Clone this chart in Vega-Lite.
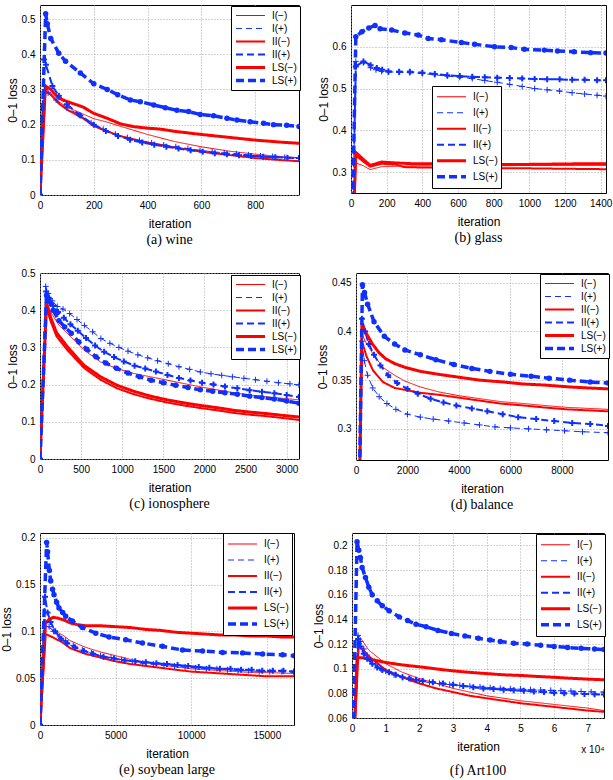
{
  "$schema": "https://vega.github.io/schema/vega-lite/v6.json",
  "padding": {"left": 0, "top": 4, "right": 0, "bottom": 0},
  "config": {
    "font": "Liberation Sans",
    "view": {"stroke": "black", "strokeWidth": 1},
    "axis": {"grid": true, "gridColor": "#a8a8a8", "gridDash": [1, 2], "gridWidth": 1, "domain": false, "ticks": false, "labelFont": "Liberation Sans", "labelFontSize": 10, "labelColor": "#000", "labelPadding": 5, "labelFlush": false, "labelOverlap": false, "titleFont": "Liberation Sans", "titleFontSize": 12, "titleFontWeight": "normal", "titleColor": "#000"},
    "axisX": {"titlePadding": 8},
    "axisY": {"titlePadding": 2},
    "title": {"orient": "bottom", "font": "Liberation Serif", "fontSize": 14, "fontWeight": "normal", "color": "#000", "offset": 4, "anchor": "middle"},
    "legend": {"title": null, "orient": "none", "symbolType": "stroke", "symbolSize": 841, "labelOffset": 5, "rowPadding": 0, "padding": 3, "labelFont": "Liberation Sans", "labelFontSize": 10, "labelColor": "#000", "strokeColor": "#000", "fillColor": "#fff"}
  },
  "datasets": {
    "wine": [
      {"s":"I(−)","x":0,"y":0},{"s":"I(−)","x":20,"y":0.3},{"s":"I(−)","x":40,"y":0.29},{"s":"I(−)","x":70,"y":0.265},{"s":"I(−)","x":100,"y":0.25},{"s":"I(−)","x":160,"y":0.23},{"s":"I(−)","x":200,"y":0.217},{"s":"I(−)","x":250,"y":0.207},{"s":"I(−)","x":300,"y":0.195},{"s":"I(−)","x":400,"y":0.172},{"s":"I(−)","x":500,"y":0.152},{"s":"I(−)","x":600,"y":0.137},{"s":"I(−)","x":700,"y":0.125},{"s":"I(−)","x":800,"y":0.116},{"s":"I(−)","x":900,"y":0.109},{"s":"I(−)","x":963,"y":0.106},
      {"s":"I(+)","x":0,"y":0},{"s":"I(+)","x":18,"y":0.3},{"s":"I(+)","x":30,"y":0.29},{"s":"I(+)","x":60,"y":0.27},{"s":"I(+)","x":100,"y":0.248},{"s":"I(+)","x":145,"y":0.228},{"s":"I(+)","x":190,"y":0.205},{"s":"I(+)","x":235,"y":0.187},{"s":"I(+)","x":280,"y":0.173},{"s":"I(+)","x":325,"y":0.163},{"s":"I(+)","x":370,"y":0.155},{"s":"I(+)","x":415,"y":0.148},{"s":"I(+)","x":460,"y":0.142},{"s":"I(+)","x":505,"y":0.137},{"s":"I(+)","x":550,"y":0.132},{"s":"I(+)","x":595,"y":0.127},{"s":"I(+)","x":640,"y":0.123},{"s":"I(+)","x":685,"y":0.12},{"s":"I(+)","x":730,"y":0.117},{"s":"I(+)","x":775,"y":0.114},{"s":"I(+)","x":820,"y":0.111},{"s":"I(+)","x":865,"y":0.109},{"s":"I(+)","x":910,"y":0.107},{"s":"I(+)","x":963,"y":0.105},
      {"s":"II(−)","x":0,"y":0},{"s":"II(−)","x":20,"y":0.295},{"s":"II(−)","x":40,"y":0.285},{"s":"II(−)","x":70,"y":0.26},{"s":"II(−)","x":100,"y":0.243},{"s":"II(−)","x":160,"y":0.218},{"s":"II(−)","x":200,"y":0.196},{"s":"II(−)","x":250,"y":0.181},{"s":"II(−)","x":300,"y":0.167},{"s":"II(−)","x":400,"y":0.149},{"s":"II(−)","x":500,"y":0.135},{"s":"II(−)","x":600,"y":0.123},{"s":"II(−)","x":700,"y":0.114},{"s":"II(−)","x":800,"y":0.105},{"s":"II(−)","x":900,"y":0.099},{"s":"II(−)","x":963,"y":0.096},
      {"s":"II(+)","x":0,"y":0},{"s":"II(+)","x":15,"y":0.385},{"s":"II(+)","x":22,"y":0.37},{"s":"II(+)","x":46,"y":0.31},{"s":"II(+)","x":70,"y":0.282},{"s":"II(+)","x":100,"y":0.258},{"s":"II(+)","x":150,"y":0.226},{"s":"II(+)","x":200,"y":0.2},{"s":"II(+)","x":245,"y":0.182},{"s":"II(+)","x":290,"y":0.168},{"s":"II(+)","x":335,"y":0.157},{"s":"II(+)","x":380,"y":0.149},{"s":"II(+)","x":425,"y":0.143},{"s":"II(+)","x":470,"y":0.137},{"s":"II(+)","x":515,"y":0.132},{"s":"II(+)","x":560,"y":0.127},{"s":"II(+)","x":605,"y":0.123},{"s":"II(+)","x":650,"y":0.119},{"s":"II(+)","x":695,"y":0.116},{"s":"II(+)","x":740,"y":0.113},{"s":"II(+)","x":785,"y":0.111},{"s":"II(+)","x":830,"y":0.109},{"s":"II(+)","x":875,"y":0.107},{"s":"II(+)","x":920,"y":0.106},{"s":"II(+)","x":963,"y":0.105},
      {"s":"LS(−)","x":0,"y":0},{"s":"LS(−)","x":20,"y":0.31},{"s":"LS(−)","x":40,"y":0.3},{"s":"LS(−)","x":70,"y":0.275},{"s":"LS(−)","x":100,"y":0.266},{"s":"LS(−)","x":160,"y":0.25},{"s":"LS(−)","x":200,"y":0.232},{"s":"LS(−)","x":250,"y":0.218},{"s":"LS(−)","x":300,"y":0.202},{"s":"LS(−)","x":350,"y":0.194},{"s":"LS(−)","x":400,"y":0.19},{"s":"LS(−)","x":450,"y":0.187},{"s":"LS(−)","x":500,"y":0.181},{"s":"LS(−)","x":600,"y":0.172},{"s":"LS(−)","x":700,"y":0.164},{"s":"LS(−)","x":800,"y":0.156},{"s":"LS(−)","x":900,"y":0.15},{"s":"LS(−)","x":963,"y":0.147},
      {"s":"LS(+)","x":0,"y":0},{"s":"LS(+)","x":21,"y":0.515},{"s":"LS(+)","x":27,"y":0.487},{"s":"LS(+)","x":40,"y":0.445},{"s":"LS(+)","x":70,"y":0.403},{"s":"LS(+)","x":95,"y":0.38},{"s":"LS(+)","x":150,"y":0.347},{"s":"LS(+)","x":200,"y":0.316},{"s":"LS(+)","x":250,"y":0.3},{"s":"LS(+)","x":289,"y":0.285},{"s":"LS(+)","x":336,"y":0.27},{"s":"LS(+)","x":373,"y":0.265},{"s":"LS(+)","x":423,"y":0.256},{"s":"LS(+)","x":466,"y":0.248},{"s":"LS(+)","x":509,"y":0.241},{"s":"LS(+)","x":553,"y":0.237},{"s":"LS(+)","x":596,"y":0.229},{"s":"LS(+)","x":645,"y":0.225},{"s":"LS(+)","x":695,"y":0.218},{"s":"LS(+)","x":732,"y":0.213},{"s":"LS(+)","x":781,"y":0.208},{"s":"LS(+)","x":831,"y":0.204},{"s":"LS(+)","x":868,"y":0.2},{"s":"LS(+)","x":917,"y":0.198},{"s":"LS(+)","x":963,"y":0.195}
    ],
    "glass": [
      {"s":"I(−)","x":0,"y":0},{"s":"I(−)","x":27,"y":0.322},{"s":"I(−)","x":70,"y":0.315},{"s":"I(−)","x":107,"y":0.306},{"s":"I(−)","x":172,"y":0.313},{"s":"I(−)","x":250,"y":0.314},{"s":"I(−)","x":400,"y":0.315},{"s":"I(−)","x":600,"y":0.314},{"s":"I(−)","x":800,"y":0.315},{"s":"I(−)","x":1000,"y":0.316},{"s":"I(−)","x":1200,"y":0.316},{"s":"I(−)","x":1430,"y":0.316},
      {"s":"I(+)","x":0,"y":0},{"s":"I(+)","x":27,"y":0.565},{"s":"I(+)","x":70,"y":0.562},{"s":"I(+)","x":110,"y":0.55},{"s":"I(+)","x":140,"y":0.545},{"s":"I(+)","x":172,"y":0.541},{"s":"I(+)","x":210,"y":0.54},{"s":"I(+)","x":270,"y":0.539},{"s":"I(+)","x":330,"y":0.538},{"s":"I(+)","x":400,"y":0.536},{"s":"I(+)","x":470,"y":0.533},{"s":"I(+)","x":540,"y":0.53},{"s":"I(+)","x":610,"y":0.527},{"s":"I(+)","x":680,"y":0.524},{"s":"I(+)","x":750,"y":0.519},{"s":"I(+)","x":820,"y":0.515},{"s":"I(+)","x":890,"y":0.51},{"s":"I(+)","x":960,"y":0.505},{"s":"I(+)","x":1030,"y":0.5},{"s":"I(+)","x":1100,"y":0.497},{"s":"I(+)","x":1170,"y":0.494},{"s":"I(+)","x":1240,"y":0.49},{"s":"I(+)","x":1310,"y":0.487},{"s":"I(+)","x":1380,"y":0.484},{"s":"I(+)","x":1430,"y":0.482},
      {"s":"II(−)","x":0,"y":0},{"s":"II(−)","x":27,"y":0.34},{"s":"II(−)","x":70,"y":0.325},{"s":"II(−)","x":107,"y":0.313},{"s":"II(−)","x":172,"y":0.32},{"s":"II(−)","x":250,"y":0.318},{"s":"II(−)","x":300,"y":0.312},{"s":"II(−)","x":400,"y":0.311},{"s":"II(−)","x":600,"y":0.31},{"s":"II(−)","x":800,"y":0.309},{"s":"II(−)","x":1000,"y":0.309},{"s":"II(−)","x":1200,"y":0.308},{"s":"II(−)","x":1430,"y":0.307},
      {"s":"II(+)","x":0,"y":0},{"s":"II(+)","x":27,"y":0.553},{"s":"II(+)","x":70,"y":0.565},{"s":"II(+)","x":110,"y":0.556},{"s":"II(+)","x":145,"y":0.549},{"s":"II(+)","x":175,"y":0.545},{"s":"II(+)","x":210,"y":0.541},{"s":"II(+)","x":270,"y":0.54},{"s":"II(+)","x":330,"y":0.54},{"s":"II(+)","x":400,"y":0.538},{"s":"II(+)","x":470,"y":0.535},{"s":"II(+)","x":540,"y":0.532},{"s":"II(+)","x":610,"y":0.53},{"s":"II(+)","x":680,"y":0.528},{"s":"II(+)","x":750,"y":0.527},{"s":"II(+)","x":820,"y":0.526},{"s":"II(+)","x":890,"y":0.525},{"s":"II(+)","x":960,"y":0.524},{"s":"II(+)","x":1030,"y":0.523},{"s":"II(+)","x":1100,"y":0.522},{"s":"II(+)","x":1170,"y":0.522},{"s":"II(+)","x":1240,"y":0.521},{"s":"II(+)","x":1310,"y":0.521},{"s":"II(+)","x":1380,"y":0.52},{"s":"II(+)","x":1430,"y":0.52},
      {"s":"LS(−)","x":0,"y":0},{"s":"LS(−)","x":27,"y":0.347},{"s":"LS(−)","x":70,"y":0.33},{"s":"LS(−)","x":107,"y":0.316},{"s":"LS(−)","x":172,"y":0.324},{"s":"LS(−)","x":250,"y":0.322},{"s":"LS(−)","x":350,"y":0.32},{"s":"LS(−)","x":500,"y":0.32},{"s":"LS(−)","x":700,"y":0.319},{"s":"LS(−)","x":900,"y":0.318},{"s":"LS(−)","x":1100,"y":0.319},{"s":"LS(−)","x":1300,"y":0.32},{"s":"LS(−)","x":1430,"y":0.32},
      {"s":"LS(+)","x":0,"y":0},{"s":"LS(+)","x":27,"y":0.624},{"s":"LS(+)","x":61,"y":0.636},{"s":"LS(+)","x":100,"y":0.645},{"s":"LS(+)","x":135,"y":0.651},{"s":"LS(+)","x":163,"y":0.643},{"s":"LS(+)","x":228,"y":0.64},{"s":"LS(+)","x":302,"y":0.633},{"s":"LS(+)","x":377,"y":0.628},{"s":"LS(+)","x":433,"y":0.62},{"s":"LS(+)","x":507,"y":0.617},{"s":"LS(+)","x":619,"y":0.61},{"s":"LS(+)","x":693,"y":0.606},{"s":"LS(+)","x":805,"y":0.6},{"s":"LS(+)","x":898,"y":0.598},{"s":"LS(+)","x":972,"y":0.594},{"s":"LS(+)","x":1084,"y":0.592},{"s":"LS(+)","x":1158,"y":0.59},{"s":"LS(+)","x":1251,"y":0.588},{"s":"LS(+)","x":1344,"y":0.586},{"s":"LS(+)","x":1430,"y":0.585}
    ],
    "iono": [
      {"s":"I(−)","x":0,"y":0},{"s":"I(−)","x":75,"y":0.42},{"s":"I(−)","x":130,"y":0.395},{"s":"I(−)","x":230,"y":0.36},{"s":"I(−)","x":332,"y":0.338},{"s":"I(−)","x":534,"y":0.293},{"s":"I(−)","x":736,"y":0.261},{"s":"I(−)","x":938,"y":0.243},{"s":"I(−)","x":1140,"y":0.23},{"s":"I(−)","x":1342,"y":0.221},{"s":"I(−)","x":1545,"y":0.212},{"s":"I(−)","x":1747,"y":0.203},{"s":"I(−)","x":1949,"y":0.194},{"s":"I(−)","x":2151,"y":0.186},{"s":"I(−)","x":2353,"y":0.178},{"s":"I(−)","x":2556,"y":0.172},{"s":"I(−)","x":2758,"y":0.167},{"s":"I(−)","x":2960,"y":0.163},{"s":"I(−)","x":3150,"y":0.159},
      {"s":"I(+)","x":0,"y":0},{"s":"I(+)","x":69,"y":0.464},{"s":"I(+)","x":100,"y":0.445},{"s":"I(+)","x":150,"y":0.425},{"s":"I(+)","x":210,"y":0.41},{"s":"I(+)","x":280,"y":0.403},{"s":"I(+)","x":360,"y":0.391},{"s":"I(+)","x":450,"y":0.375},{"s":"I(+)","x":540,"y":0.359},{"s":"I(+)","x":640,"y":0.342},{"s":"I(+)","x":740,"y":0.324},{"s":"I(+)","x":850,"y":0.311},{"s":"I(+)","x":960,"y":0.3},{"s":"I(+)","x":1070,"y":0.29},{"s":"I(+)","x":1190,"y":0.28},{"s":"I(+)","x":1310,"y":0.272},{"s":"I(+)","x":1430,"y":0.264},{"s":"I(+)","x":1560,"y":0.256},{"s":"I(+)","x":1690,"y":0.248},{"s":"I(+)","x":1820,"y":0.241},{"s":"I(+)","x":1950,"y":0.234},{"s":"I(+)","x":2080,"y":0.229},{"s":"I(+)","x":2210,"y":0.225},{"s":"I(+)","x":2340,"y":0.221},{"s":"I(+)","x":2480,"y":0.217},{"s":"I(+)","x":2620,"y":0.213},{"s":"I(+)","x":2760,"y":0.209},{"s":"I(+)","x":2900,"y":0.205},{"s":"I(+)","x":3040,"y":0.202},{"s":"I(+)","x":3150,"y":0.199},
      {"s":"II(−)","x":0,"y":0},{"s":"II(−)","x":75,"y":0.41},{"s":"II(−)","x":130,"y":0.37},{"s":"II(−)","x":200,"y":0.33},{"s":"II(−)","x":332,"y":0.293},{"s":"II(−)","x":534,"y":0.245},{"s":"II(−)","x":736,"y":0.213},{"s":"II(−)","x":938,"y":0.19},{"s":"II(−)","x":1140,"y":0.174},{"s":"II(−)","x":1342,"y":0.162},{"s":"II(−)","x":1545,"y":0.152},{"s":"II(−)","x":1747,"y":0.144},{"s":"II(−)","x":1949,"y":0.137},{"s":"II(−)","x":2151,"y":0.131},{"s":"II(−)","x":2353,"y":0.124},{"s":"II(−)","x":2556,"y":0.119},{"s":"II(−)","x":2758,"y":0.115},{"s":"II(−)","x":2960,"y":0.11},{"s":"II(−)","x":3150,"y":0.105},
      {"s":"II(+)","x":0,"y":0},{"s":"II(+)","x":75,"y":0.45},{"s":"II(+)","x":110,"y":0.432},{"s":"II(+)","x":160,"y":0.412},{"s":"II(+)","x":220,"y":0.395},{"s":"II(+)","x":290,"y":0.38},{"s":"II(+)","x":370,"y":0.362},{"s":"II(+)","x":460,"y":0.345},{"s":"II(+)","x":560,"y":0.325},{"s":"II(+)","x":670,"y":0.305},{"s":"II(+)","x":780,"y":0.288},{"s":"II(+)","x":900,"y":0.274},{"s":"II(+)","x":1020,"y":0.262},{"s":"II(+)","x":1150,"y":0.251},{"s":"II(+)","x":1280,"y":0.243},{"s":"II(+)","x":1410,"y":0.235},{"s":"II(+)","x":1550,"y":0.226},{"s":"II(+)","x":1690,"y":0.218},{"s":"II(+)","x":1830,"y":0.211},{"s":"II(+)","x":1970,"y":0.205},{"s":"II(+)","x":2110,"y":0.2},{"s":"II(+)","x":2250,"y":0.195},{"s":"II(+)","x":2400,"y":0.19},{"s":"II(+)","x":2550,"y":0.185},{"s":"II(+)","x":2700,"y":0.181},{"s":"II(+)","x":2850,"y":0.177},{"s":"II(+)","x":3000,"y":0.172},{"s":"II(+)","x":3150,"y":0.167},
      {"s":"LS(−)","x":0,"y":0},{"s":"LS(−)","x":80,"y":0.42},{"s":"LS(−)","x":130,"y":0.38},{"s":"LS(−)","x":200,"y":0.34},{"s":"LS(−)","x":332,"y":0.302},{"s":"LS(−)","x":534,"y":0.252},{"s":"LS(−)","x":736,"y":0.221},{"s":"LS(−)","x":938,"y":0.198},{"s":"LS(−)","x":1140,"y":0.182},{"s":"LS(−)","x":1342,"y":0.169},{"s":"LS(−)","x":1545,"y":0.159},{"s":"LS(−)","x":1747,"y":0.151},{"s":"LS(−)","x":1949,"y":0.144},{"s":"LS(−)","x":2151,"y":0.138},{"s":"LS(−)","x":2353,"y":0.131},{"s":"LS(−)","x":2556,"y":0.126},{"s":"LS(−)","x":2758,"y":0.122},{"s":"LS(−)","x":2960,"y":0.117},{"s":"LS(−)","x":3150,"y":0.113},
      {"s":"LS(+)","x":0,"y":0},{"s":"LS(+)","x":80,"y":0.44},{"s":"LS(+)","x":110,"y":0.425},{"s":"LS(+)","x":160,"y":0.4},{"s":"LS(+)","x":230,"y":0.372},{"s":"LS(+)","x":300,"y":0.355},{"s":"LS(+)","x":380,"y":0.338},{"s":"LS(+)","x":470,"y":0.315},{"s":"LS(+)","x":570,"y":0.295},{"s":"LS(+)","x":680,"y":0.275},{"s":"LS(+)","x":800,"y":0.258},{"s":"LS(+)","x":930,"y":0.244},{"s":"LS(+)","x":1070,"y":0.231},{"s":"LS(+)","x":1210,"y":0.221},{"s":"LS(+)","x":1350,"y":0.212},{"s":"LS(+)","x":1500,"y":0.205},{"s":"LS(+)","x":1650,"y":0.198},{"s":"LS(+)","x":1800,"y":0.192},{"s":"LS(+)","x":1950,"y":0.186},{"s":"LS(+)","x":2100,"y":0.182},{"s":"LS(+)","x":2250,"y":0.178},{"s":"LS(+)","x":2400,"y":0.174},{"s":"LS(+)","x":2550,"y":0.169},{"s":"LS(+)","x":2700,"y":0.165},{"s":"LS(+)","x":2850,"y":0.161},{"s":"LS(+)","x":3000,"y":0.156},{"s":"LS(+)","x":3150,"y":0.15}
    ],
    "balance": [
      {"s":"I(−)","x":0,"y":0},{"s":"I(−)","x":230,"y":0.397},{"s":"I(−)","x":400,"y":0.388},{"s":"I(−)","x":660,"y":0.377},{"s":"I(−)","x":1050,"y":0.363},{"s":"I(−)","x":1500,"y":0.355},{"s":"I(−)","x":1900,"y":0.349},{"s":"I(−)","x":2500,"y":0.343},{"s":"I(−)","x":3200,"y":0.338},{"s":"I(−)","x":4000,"y":0.334},{"s":"I(−)","x":4800,"y":0.331},{"s":"I(−)","x":5600,"y":0.328},{"s":"I(−)","x":6500,"y":0.326},{"s":"I(−)","x":7300,"y":0.324},{"s":"I(−)","x":8200,"y":0.322},{"s":"I(−)","x":9000,"y":0.321},{"s":"I(−)","x":9790,"y":0.32},
      {"s":"I(+)","x":0,"y":0},{"s":"I(+)","x":230,"y":0.39},{"s":"I(+)","x":320,"y":0.37},{"s":"I(+)","x":450,"y":0.355},{"s":"I(+)","x":650,"y":0.342},{"s":"I(+)","x":900,"y":0.333},{"s":"I(+)","x":1200,"y":0.326},{"s":"I(+)","x":1550,"y":0.32},{"s":"I(+)","x":2000,"y":0.315},{"s":"I(+)","x":2500,"y":0.312},{"s":"I(+)","x":3000,"y":0.31},{"s":"I(+)","x":3600,"y":0.308},{"s":"I(+)","x":4200,"y":0.306},{"s":"I(+)","x":4800,"y":0.304},{"s":"I(+)","x":5400,"y":0.302},{"s":"I(+)","x":6000,"y":0.301},{"s":"I(+)","x":6700,"y":0.3},{"s":"I(+)","x":7400,"y":0.299},{"s":"I(+)","x":8100,"y":0.298},{"s":"I(+)","x":8800,"y":0.297},{"s":"I(+)","x":9790,"y":0.296},
      {"s":"II(−)","x":0,"y":0},{"s":"II(−)","x":230,"y":0.39},{"s":"II(−)","x":400,"y":0.375},{"s":"II(−)","x":660,"y":0.36},{"s":"II(−)","x":1050,"y":0.348},{"s":"II(−)","x":1500,"y":0.342},{"s":"II(−)","x":1900,"y":0.34},{"s":"II(−)","x":2500,"y":0.337},{"s":"II(−)","x":3200,"y":0.335},{"s":"II(−)","x":4000,"y":0.332},{"s":"II(−)","x":4800,"y":0.329},{"s":"II(−)","x":5600,"y":0.326},{"s":"II(−)","x":6500,"y":0.324},{"s":"II(−)","x":7300,"y":0.322},{"s":"II(−)","x":8200,"y":0.32},{"s":"II(−)","x":9000,"y":0.319},{"s":"II(−)","x":9790,"y":0.318},
      {"s":"II(+)","x":0,"y":0},{"s":"II(+)","x":230,"y":0.413},{"s":"II(+)","x":350,"y":0.4},{"s":"II(+)","x":500,"y":0.387},{"s":"II(+)","x":700,"y":0.376},{"s":"II(+)","x":950,"y":0.365},{"s":"II(+)","x":1250,"y":0.355},{"s":"II(+)","x":1600,"y":0.347},{"s":"II(+)","x":2000,"y":0.341},{"s":"II(+)","x":2400,"y":0.336},{"s":"II(+)","x":2900,"y":0.331},{"s":"II(+)","x":3400,"y":0.327},{"s":"II(+)","x":3900,"y":0.324},{"s":"II(+)","x":4500,"y":0.321},{"s":"II(+)","x":5100,"y":0.318},{"s":"II(+)","x":5700,"y":0.315},{"s":"II(+)","x":6300,"y":0.312},{"s":"II(+)","x":7000,"y":0.31},{"s":"II(+)","x":7700,"y":0.308},{"s":"II(+)","x":8400,"y":0.306},{"s":"II(+)","x":9100,"y":0.305},{"s":"II(+)","x":9790,"y":0.303},
      {"s":"LS(−)","x":0,"y":0},{"s":"LS(−)","x":230,"y":0.408},{"s":"LS(−)","x":400,"y":0.398},{"s":"LS(−)","x":640,"y":0.387},{"s":"LS(−)","x":900,"y":0.378},{"s":"LS(−)","x":1150,"y":0.372},{"s":"LS(−)","x":1500,"y":0.367},{"s":"LS(−)","x":1920,"y":0.363},{"s":"LS(−)","x":2500,"y":0.359},{"s":"LS(−)","x":3200,"y":0.356},{"s":"LS(−)","x":4000,"y":0.353},{"s":"LS(−)","x":4800,"y":0.35},{"s":"LS(−)","x":5760,"y":0.348},{"s":"LS(−)","x":6500,"y":0.346},{"s":"LS(−)","x":7300,"y":0.345},{"s":"LS(−)","x":8300,"y":0.343},{"s":"LS(−)","x":9000,"y":0.342},{"s":"LS(−)","x":9790,"y":0.341},
      {"s":"LS(+)","x":0,"y":0},{"s":"LS(+)","x":250,"y":0.448},{"s":"LS(+)","x":330,"y":0.44},{"s":"LS(+)","x":450,"y":0.428},{"s":"LS(+)","x":700,"y":0.41},{"s":"LS(+)","x":1100,"y":0.395},{"s":"LS(+)","x":1500,"y":0.387},{"s":"LS(+)","x":1900,"y":0.381},{"s":"LS(+)","x":2500,"y":0.376},{"s":"LS(+)","x":3100,"y":0.371},{"s":"LS(+)","x":3800,"y":0.366},{"s":"LS(+)","x":4500,"y":0.362},{"s":"LS(+)","x":5200,"y":0.359},{"s":"LS(+)","x":6000,"y":0.356},{"s":"LS(+)","x":6800,"y":0.354},{"s":"LS(+)","x":7500,"y":0.352},{"s":"LS(+)","x":8300,"y":0.35},{"s":"LS(+)","x":9100,"y":0.348},{"s":"LS(+)","x":9790,"y":0.347}
    ],
    "soy": [
      {"s":"I(−)","x":0,"y":0},{"s":"I(−)","x":400,"y":0.106},{"s":"I(−)","x":800,"y":0.102},{"s":"I(−)","x":1500,"y":0.096},{"s":"I(−)","x":2000,"y":0.09},{"s":"I(−)","x":3000,"y":0.083},{"s":"I(−)","x":4000,"y":0.078},{"s":"I(−)","x":5000,"y":0.074},{"s":"I(−)","x":6000,"y":0.07},{"s":"I(−)","x":7000,"y":0.067},{"s":"I(−)","x":8000,"y":0.064},{"s":"I(−)","x":9000,"y":0.062},{"s":"I(−)","x":10000,"y":0.06},{"s":"I(−)","x":11000,"y":0.059},{"s":"I(−)","x":12000,"y":0.058},{"s":"I(−)","x":13000,"y":0.057},{"s":"I(−)","x":14000,"y":0.056},{"s":"I(−)","x":15000,"y":0.056},{"s":"I(−)","x":16800,"y":0.055},
      {"s":"I(+)","x":0,"y":0},{"s":"I(+)","x":350,"y":0.11},{"s":"I(+)","x":600,"y":0.105},{"s":"I(+)","x":900,"y":0.1},{"s":"I(+)","x":1300,"y":0.094},{"s":"I(+)","x":1700,"y":0.09},{"s":"I(+)","x":2200,"y":0.085},{"s":"I(+)","x":2800,"y":0.08},{"s":"I(+)","x":3400,"y":0.077},{"s":"I(+)","x":4000,"y":0.074},{"s":"I(+)","x":4700,"y":0.072},{"s":"I(+)","x":5400,"y":0.07},{"s":"I(+)","x":6100,"y":0.068},{"s":"I(+)","x":6800,"y":0.066},{"s":"I(+)","x":7500,"y":0.065},{"s":"I(+)","x":8200,"y":0.064},{"s":"I(+)","x":8900,"y":0.063},{"s":"I(+)","x":9600,"y":0.062},{"s":"I(+)","x":10300,"y":0.061},{"s":"I(+)","x":11000,"y":0.06},{"s":"I(+)","x":11700,"y":0.06},{"s":"I(+)","x":12400,"y":0.059},{"s":"I(+)","x":13100,"y":0.058},{"s":"I(+)","x":13800,"y":0.058},{"s":"I(+)","x":14500,"y":0.057},{"s":"I(+)","x":15200,"y":0.057},{"s":"I(+)","x":16000,"y":0.057},{"s":"I(+)","x":16800,"y":0.056},
      {"s":"II(−)","x":0,"y":0},{"s":"II(−)","x":380,"y":0.097},{"s":"II(−)","x":800,"y":0.094},{"s":"II(−)","x":1500,"y":0.088},{"s":"II(−)","x":2000,"y":0.082},{"s":"II(−)","x":3000,"y":0.076},{"s":"II(−)","x":4000,"y":0.072},{"s":"II(−)","x":5000,"y":0.068},{"s":"II(−)","x":6000,"y":0.065},{"s":"II(−)","x":7000,"y":0.063},{"s":"II(−)","x":8000,"y":0.061},{"s":"II(−)","x":9000,"y":0.059},{"s":"II(−)","x":10000,"y":0.057},{"s":"II(−)","x":11000,"y":0.056},{"s":"II(−)","x":12000,"y":0.055},{"s":"II(−)","x":13000,"y":0.054},{"s":"II(−)","x":14000,"y":0.053},{"s":"II(−)","x":15000,"y":0.052},{"s":"II(−)","x":16800,"y":0.052},
      {"s":"II(+)","x":0,"y":0},{"s":"II(+)","x":330,"y":0.137},{"s":"II(+)","x":500,"y":0.12},{"s":"II(+)","x":700,"y":0.11},{"s":"II(+)","x":1000,"y":0.1},{"s":"II(+)","x":1400,"y":0.092},{"s":"II(+)","x":1800,"y":0.087},{"s":"II(+)","x":2300,"y":0.083},{"s":"II(+)","x":2900,"y":0.079},{"s":"II(+)","x":3500,"y":0.076},{"s":"II(+)","x":4200,"y":0.073},{"s":"II(+)","x":4900,"y":0.071},{"s":"II(+)","x":5600,"y":0.069},{"s":"II(+)","x":6300,"y":0.068},{"s":"II(+)","x":7000,"y":0.067},{"s":"II(+)","x":7700,"y":0.066},{"s":"II(+)","x":8400,"y":0.065},{"s":"II(+)","x":9100,"y":0.064},{"s":"II(+)","x":9800,"y":0.063},{"s":"II(+)","x":10500,"y":0.062},{"s":"II(+)","x":11200,"y":0.061},{"s":"II(+)","x":11900,"y":0.06},{"s":"II(+)","x":12600,"y":0.06},{"s":"II(+)","x":13300,"y":0.059},{"s":"II(+)","x":14000,"y":0.059},{"s":"II(+)","x":14700,"y":0.058},{"s":"II(+)","x":15400,"y":0.058},{"s":"II(+)","x":16100,"y":0.058},{"s":"II(+)","x":16800,"y":0.057},
      {"s":"LS(−)","x":0,"y":0},{"s":"LS(−)","x":350,"y":0.108},{"s":"LS(−)","x":600,"y":0.113},{"s":"LS(−)","x":900,"y":0.115},{"s":"LS(−)","x":1200,"y":0.114},{"s":"LS(−)","x":1600,"y":0.112},{"s":"LS(−)","x":2000,"y":0.109},{"s":"LS(−)","x":2500,"y":0.107},{"s":"LS(−)","x":3000,"y":0.106},{"s":"LS(−)","x":4000,"y":0.106},{"s":"LS(−)","x":5000,"y":0.105},{"s":"LS(−)","x":6000,"y":0.104},{"s":"LS(−)","x":7000,"y":0.102},{"s":"LS(−)","x":8000,"y":0.101},{"s":"LS(−)","x":9000,"y":0.099},{"s":"LS(−)","x":10000,"y":0.098},{"s":"LS(−)","x":11000,"y":0.097},{"s":"LS(−)","x":12000,"y":0.096},{"s":"LS(−)","x":13000,"y":0.096},{"s":"LS(−)","x":14000,"y":0.095},{"s":"LS(−)","x":15000,"y":0.095},{"s":"LS(−)","x":16000,"y":0.094},{"s":"LS(−)","x":16800,"y":0.094},
      {"s":"LS(+)","x":0,"y":0},{"s":"LS(+)","x":440,"y":0.195},{"s":"LS(+)","x":500,"y":0.185},{"s":"LS(+)","x":620,"y":0.165},{"s":"LS(+)","x":706,"y":0.154},{"s":"LS(+)","x":830,"y":0.145},{"s":"LS(+)","x":927,"y":0.139},{"s":"LS(+)","x":1100,"y":0.131},{"s":"LS(+)","x":1258,"y":0.125},{"s":"LS(+)","x":1500,"y":0.12},{"s":"LS(+)","x":1700,"y":0.116},{"s":"LS(+)","x":2141,"y":0.111},{"s":"LS(+)","x":2800,"y":0.104},{"s":"LS(+)","x":3687,"y":0.098},{"s":"LS(+)","x":4570,"y":0.094},{"s":"LS(+)","x":5670,"y":0.091},{"s":"LS(+)","x":6777,"y":0.0875},{"s":"LS(+)","x":8100,"y":0.084},{"s":"LS(+)","x":9426,"y":0.08},{"s":"LS(+)","x":10750,"y":0.079},{"s":"LS(+)","x":12075,"y":0.0775},{"s":"LS(+)","x":13400,"y":0.077},{"s":"LS(+)","x":14724,"y":0.0757},{"s":"LS(+)","x":16049,"y":0.075},{"s":"LS(+)","x":16800,"y":0.074}
    ],
    "art": [
      {"s":"I(−)","x":0,"y":0},{"s":"I(−)","x":2000,"y":0.127},{"s":"I(−)","x":5000,"y":0.115},{"s":"I(−)","x":10000,"y":0.104},{"s":"I(−)","x":15000,"y":0.097},{"s":"I(−)","x":20000,"y":0.092},{"s":"I(−)","x":25000,"y":0.088},{"s":"I(−)","x":30000,"y":0.084},{"s":"I(−)","x":35000,"y":0.081},{"s":"I(−)","x":40000,"y":0.078},{"s":"I(−)","x":45000,"y":0.076},{"s":"I(−)","x":50000,"y":0.074},{"s":"I(−)","x":55000,"y":0.0725},{"s":"I(−)","x":60000,"y":0.071},{"s":"I(−)","x":65000,"y":0.0695},{"s":"I(−)","x":70000,"y":0.068},{"s":"I(−)","x":74800,"y":0.066},
      {"s":"I(+)","x":0,"y":0},{"s":"I(+)","x":1800,"y":0.127},{"s":"I(+)","x":2500,"y":0.122},{"s":"I(+)","x":3500,"y":0.116},{"s":"I(+)","x":4500,"y":0.111},{"s":"I(+)","x":5500,"y":0.107},{"s":"I(+)","x":7000,"y":0.103},{"s":"I(+)","x":8500,"y":0.1},{"s":"I(+)","x":10000,"y":0.098},{"s":"I(+)","x":12500,"y":0.095},{"s":"I(+)","x":15000,"y":0.093},{"s":"I(+)","x":17500,"y":0.0915},{"s":"I(+)","x":20000,"y":0.09},{"s":"I(+)","x":23000,"y":0.0889},{"s":"I(+)","x":26000,"y":0.088},{"s":"I(+)","x":29000,"y":0.0872},{"s":"I(+)","x":32000,"y":0.0865},{"s":"I(+)","x":35000,"y":0.0858},{"s":"I(+)","x":38000,"y":0.0852},{"s":"I(+)","x":41000,"y":0.0846},{"s":"I(+)","x":44000,"y":0.0841},{"s":"I(+)","x":47000,"y":0.0837},{"s":"I(+)","x":50000,"y":0.0834},{"s":"I(+)","x":53000,"y":0.083},{"s":"I(+)","x":56000,"y":0.0827},{"s":"I(+)","x":59000,"y":0.0824},{"s":"I(+)","x":62000,"y":0.0821},{"s":"I(+)","x":65000,"y":0.0818},{"s":"I(+)","x":68000,"y":0.0815},{"s":"I(+)","x":71000,"y":0.0812},{"s":"I(+)","x":74800,"y":0.081},
      {"s":"II(−)","x":0,"y":0},{"s":"II(−)","x":2000,"y":0.119},{"s":"II(−)","x":5000,"y":0.11},{"s":"II(−)","x":10000,"y":0.099},{"s":"II(−)","x":15000,"y":0.093},{"s":"II(−)","x":20000,"y":0.088},{"s":"II(−)","x":25000,"y":0.084},{"s":"II(−)","x":30000,"y":0.081},{"s":"II(−)","x":35000,"y":0.078},{"s":"II(−)","x":40000,"y":0.076},{"s":"II(−)","x":45000,"y":0.074},{"s":"II(−)","x":50000,"y":0.072},{"s":"II(−)","x":55000,"y":0.0705},{"s":"II(−)","x":60000,"y":0.069},{"s":"II(−)","x":65000,"y":0.0675},{"s":"II(−)","x":70000,"y":0.066},{"s":"II(−)","x":74800,"y":0.065},
      {"s":"II(+)","x":0,"y":0},{"s":"II(+)","x":1800,"y":0.124},{"s":"II(+)","x":2500,"y":0.118},{"s":"II(+)","x":3500,"y":0.112},{"s":"II(+)","x":4500,"y":0.108},{"s":"II(+)","x":6000,"y":0.104},{"s":"II(+)","x":7500,"y":0.101},{"s":"II(+)","x":9000,"y":0.099},{"s":"II(+)","x":11000,"y":0.097},{"s":"II(+)","x":13000,"y":0.095},{"s":"II(+)","x":15000,"y":0.093},{"s":"II(+)","x":17000,"y":0.092},{"s":"II(+)","x":19000,"y":0.091},{"s":"II(+)","x":21000,"y":0.09},{"s":"II(+)","x":24000,"y":0.089},{"s":"II(+)","x":27000,"y":0.088},{"s":"II(+)","x":30000,"y":0.087},{"s":"II(+)","x":33000,"y":0.086},{"s":"II(+)","x":36000,"y":0.085},{"s":"II(+)","x":39000,"y":0.084},{"s":"II(+)","x":42000,"y":0.0835},{"s":"II(+)","x":45000,"y":0.083},{"s":"II(+)","x":48000,"y":0.0825},{"s":"II(+)","x":51000,"y":0.082},{"s":"II(+)","x":54000,"y":0.0815},{"s":"II(+)","x":57000,"y":0.081},{"s":"II(+)","x":60000,"y":0.0805},{"s":"II(+)","x":63000,"y":0.08},{"s":"II(+)","x":66000,"y":0.0798},{"s":"II(+)","x":69000,"y":0.0795},{"s":"II(+)","x":72000,"y":0.0792},{"s":"II(+)","x":74800,"y":0.079},
      {"s":"LS(−)","x":0,"y":0},{"s":"LS(−)","x":1500,"y":0.109},{"s":"LS(−)","x":3000,"y":0.1088},{"s":"LS(−)","x":5000,"y":0.1078},{"s":"LS(−)","x":7500,"y":0.1065},{"s":"LS(−)","x":10000,"y":0.105},{"s":"LS(−)","x":15000,"y":0.103},{"s":"LS(−)","x":20000,"y":0.1015},{"s":"LS(−)","x":25000,"y":0.0998},{"s":"LS(−)","x":30000,"y":0.0982},{"s":"LS(−)","x":35000,"y":0.097},{"s":"LS(−)","x":40000,"y":0.096},{"s":"LS(−)","x":45000,"y":0.095},{"s":"LS(−)","x":50000,"y":0.0945},{"s":"LS(−)","x":55000,"y":0.0937},{"s":"LS(−)","x":60000,"y":0.093},{"s":"LS(−)","x":65000,"y":0.0922},{"s":"LS(−)","x":70000,"y":0.0915},{"s":"LS(−)","x":74800,"y":0.091},
      {"s":"LS(+)","x":0,"y":0},{"s":"LS(+)","x":1500,"y":0.203},{"s":"LS(+)","x":2000,"y":0.196},{"s":"LS(+)","x":2500,"y":0.19},{"s":"LS(+)","x":3000,"y":0.182},{"s":"LS(+)","x":4000,"y":0.174},{"s":"LS(+)","x":5000,"y":0.166},{"s":"LS(+)","x":6000,"y":0.16},{"s":"LS(+)","x":7500,"y":0.155},{"s":"LS(+)","x":9000,"y":0.151},{"s":"LS(+)","x":11000,"y":0.147},{"s":"LS(+)","x":14000,"y":0.142},{"s":"LS(+)","x":16500,"y":0.139},{"s":"LS(+)","x":19000,"y":0.136},{"s":"LS(+)","x":22000,"y":0.134},{"s":"LS(+)","x":25500,"y":0.131},{"s":"LS(+)","x":29500,"y":0.1286},{"s":"LS(+)","x":33500,"y":0.1265},{"s":"LS(+)","x":37500,"y":0.1246},{"s":"LS(+)","x":41000,"y":0.1233},{"s":"LS(+)","x":44000,"y":0.122},{"s":"LS(+)","x":48000,"y":0.1206},{"s":"LS(+)","x":52000,"y":0.12},{"s":"LS(+)","x":56000,"y":0.119},{"s":"LS(+)","x":60000,"y":0.118},{"s":"LS(+)","x":64000,"y":0.1172},{"s":"LS(+)","x":68000,"y":0.1165},{"s":"LS(+)","x":72000,"y":0.116},{"s":"LS(+)","x":74800,"y":0.1155}
    ]
  },
  "spacing": 19,
  "align": "none",
  "resolve": {"scale": {"color": "independent", "strokeWidth": "independent", "strokeDash": "independent"}, "legend": {"color": "independent", "strokeWidth": "independent", "strokeDash": "independent"}},
  "vconcat": [
    {
      "hconcat": [
        {
          "width": 259, "height": 190,
          "title": "(a) wine",
          "data": {"name": "wine"},
          "encoding": {
            "x": {"field": "x", "type": "quantitative", "scale": {"domain": [0, 963], "nice": false, "zero": false}, "axis": {"values": [0, 200, 400, 600, 800], "format": "d", "title": "iteration"}},
            "y": {"field": "y", "type": "quantitative", "scale": {"domain": [0, 0.54], "nice": false, "zero": false}, "axis": {"values": [0, 0.1, 0.2, 0.3, 0.4, 0.5], "format": "~g", "title": "0–1 loss"}},
            "color": {"field": "s", "type": "nominal", "scale": {"domain": ["I(−)", "I(+)", "II(−)", "II(+)", "LS(−)", "LS(+)"], "range": ["#ff0000", "#1030ff", "#ff0000", "#1030ff", "#ff0000", "#1030ff"]}, "legend": {"legendX": 191, "legendY": 1, "clipHeight": 13, "encoding": {"symbols": {"shape": {"expr": "datum.value === 'LS(+)' ? 'M-1,0H1M0.1,0A0.1,0.1 0 1 1 -0.1,0A0.1,0.1 0 1 1 0.1,0' : (datum.value === 'I(+)' || datum.value === 'II(+)') ? 'M-1,0H1M0,-0.21V0.21M-0.21,0H0.21' : 'M-1,0H1'"}}}}}
          },
          "layer": [
            {"mark": {"type": "line", "clip": true}, "encoding": {
              "strokeWidth": {"field": "s", "type": "nominal", "scale": {"type": "ordinal", "domain": ["I(−)", "I(+)", "II(−)", "II(+)", "LS(−)", "LS(+)"], "range": [1, 1, 2, 2, 3, 3.5]}},
              "strokeDash": {"field": "s", "type": "nominal", "scale": {"domain": ["I(−)", "I(+)", "II(−)", "II(+)", "LS(−)", "LS(+)"], "range": [[1, 0], [6, 4], [1, 0], [7, 4], [1, 0], [8, 4]]}}}},
            {"transform": [{"filter": "datum.s === 'I(+)' || datum.s === 'II(+)'"}], "mark": {"type": "point", "shape": "M-1,0H1M0,-1V1", "filled": false, "size": 36, "opacity": 1, "clip": true}, "encoding": {
              "strokeWidth": {"field": "s", "type": "nominal", "scale": {"type": "ordinal", "domain": ["I(−)", "I(+)", "II(−)", "II(+)", "LS(−)", "LS(+)"], "range": [1, 1, 2, 2, 3, 3.5]}}}},
            {"transform": [{"filter": "datum.s === 'LS(+)'"}], "mark": {"type": "point", "shape": "circle", "filled": true, "size": 30, "opacity": 1, "clip": true}}
          ]
        },
        {
          "width": 255, "height": 188,
          "title": "(b) glass",
          "data": {"name": "glass"},
          "encoding": {
            "x": {"field": "x", "type": "quantitative", "scale": {"domain": [0, 1430], "nice": false, "zero": false}, "axis": {"values": [0, 200, 400, 600, 800, 1000, 1200, 1400], "format": "d", "title": "iteration"}},
            "y": {"field": "y", "type": "quantitative", "scale": {"domain": [0.25, 0.7], "nice": false, "zero": false}, "axis": {"values": [0.3, 0.4, 0.5, 0.6], "format": "~g", "title": "0–1 loss"}},
            "color": {"field": "s", "type": "nominal", "scale": {"domain": ["I(−)", "I(+)", "II(−)", "II(+)", "LS(−)", "LS(+)"], "range": ["#ff0000", "#1030ff", "#ff0000", "#1030ff", "#ff0000", "#1030ff"]}, "legend": {"legendX": 81, "legendY": 81, "clipHeight": 15.5, "encoding": {"symbols": {"shape": {"expr": "datum.value === 'LS(+)' ? 'M-1,0H1M0.1,0A0.1,0.1 0 1 1 -0.1,0A0.1,0.1 0 1 1 0.1,0' : (datum.value === 'I(+)' || datum.value === 'II(+)') ? 'M-1,0H1M0,-0.21V0.21M-0.21,0H0.21' : 'M-1,0H1'"}}}}}
          },
          "layer": [
            {"mark": {"type": "line", "clip": true}, "encoding": {
              "strokeWidth": {"field": "s", "type": "nominal", "scale": {"type": "ordinal", "domain": ["I(−)", "I(+)", "II(−)", "II(+)", "LS(−)", "LS(+)"], "range": [1, 1, 2, 2, 3, 3.5]}},
              "strokeDash": {"field": "s", "type": "nominal", "scale": {"domain": ["I(−)", "I(+)", "II(−)", "II(+)", "LS(−)", "LS(+)"], "range": [[1, 0], [6, 4], [1, 0], [7, 4], [1, 0], [8, 4]]}}}},
            {"transform": [{"filter": "datum.s === 'I(+)' || datum.s === 'II(+)'"}], "mark": {"type": "point", "shape": "M-1,0H1M0,-1V1", "filled": false, "size": 36, "opacity": 1, "clip": true}, "encoding": {
              "strokeWidth": {"field": "s", "type": "nominal", "scale": {"type": "ordinal", "domain": ["I(−)", "I(+)", "II(−)", "II(+)", "LS(−)", "LS(+)"], "range": [1, 1, 2, 2, 3, 3.5]}}}},
            {"transform": [{"filter": "datum.s === 'LS(+)'"}], "mark": {"type": "point", "shape": "circle", "filled": true, "size": 30, "opacity": 1, "clip": true}}
          ]
        }
      ],
      "bounds": "flush",
      "spacing": 52,
      "resolve": {"scale": {"color": "independent", "strokeWidth": "independent", "strokeDash": "independent"}, "legend": {"color": "independent", "strokeWidth": "independent", "strokeDash": "independent"}}
    },
    {
      "hconcat": [
        {
          "width": 259, "height": 186,
          "title": "(c) ionosphere",
          "data": {"name": "iono"},
          "encoding": {
            "x": {"field": "x", "type": "quantitative", "scale": {"domain": [0, 3150], "nice": false, "zero": false}, "axis": {"values": [0, 500, 1000, 1500, 2000, 2500, 3000], "format": "d", "title": "iteration"}},
            "y": {"field": "y", "type": "quantitative", "scale": {"domain": [0, 0.5], "nice": false, "zero": false}, "axis": {"values": [0, 0.1, 0.2, 0.3, 0.4, 0.5], "format": "~g", "title": "0–1 loss"}},
            "color": {"field": "s", "type": "nominal", "scale": {"domain": ["I(−)", "I(+)", "II(−)", "II(+)", "LS(−)", "LS(+)"], "range": ["#ff0000", "#1030ff", "#ff0000", "#1030ff", "#ff0000", "#1030ff"]}, "legend": {"legendX": 191, "legendY": 2, "clipHeight": 13, "encoding": {"symbols": {"shape": {"expr": "datum.value === 'LS(+)' ? 'M-1,0H1M0.1,0A0.1,0.1 0 1 1 -0.1,0A0.1,0.1 0 1 1 0.1,0' : (datum.value === 'I(+)' || datum.value === 'II(+)') ? 'M-1,0H1M0,-0.21V0.21M-0.21,0H0.21' : 'M-1,0H1'"}}}}}
          },
          "layer": [
            {"mark": {"type": "line", "clip": true}, "encoding": {
              "strokeWidth": {"field": "s", "type": "nominal", "scale": {"type": "ordinal", "domain": ["I(−)", "I(+)", "II(−)", "II(+)", "LS(−)", "LS(+)"], "range": [1, 1, 2, 2, 3, 3.5]}},
              "strokeDash": {"field": "s", "type": "nominal", "scale": {"domain": ["I(−)", "I(+)", "II(−)", "II(+)", "LS(−)", "LS(+)"], "range": [[1, 0], [6, 4], [1, 0], [7, 4], [1, 0], [8, 4]]}}}},
            {"transform": [{"filter": "datum.s === 'I(+)' || datum.s === 'II(+)'"}], "mark": {"type": "point", "shape": "M-1,0H1M0,-1V1", "filled": false, "size": 36, "opacity": 1, "clip": true}, "encoding": {
              "strokeWidth": {"field": "s", "type": "nominal", "scale": {"type": "ordinal", "domain": ["I(−)", "I(+)", "II(−)", "II(+)", "LS(−)", "LS(+)"], "range": [1, 1, 2, 2, 3, 3.5]}}}},
            {"transform": [{"filter": "datum.s === 'LS(+)'"}], "mark": {"type": "point", "shape": "circle", "filled": true, "size": 30, "opacity": 1, "clip": true}}
          ]
        },
        {
          "width": 252, "height": 187,
          "title": "(d) balance",
          "data": {"name": "balance"},
          "encoding": {
            "x": {"field": "x", "type": "quantitative", "scale": {"domain": [0, 9790], "nice": false, "zero": false}, "axis": {"values": [0, 2000, 4000, 6000, 8000], "format": "d", "title": "iteration"}},
            "y": {"field": "y", "type": "quantitative", "scale": {"domain": [0.268, 0.46], "nice": false, "zero": false}, "axis": {"values": [0.3, 0.35, 0.4, 0.45], "format": "~g", "title": "0–1 loss"}},
            "color": {"field": "s", "type": "nominal", "scale": {"domain": ["I(−)", "I(+)", "II(−)", "II(+)", "LS(−)", "LS(+)"], "range": ["#ff0000", "#1030ff", "#ff0000", "#1030ff", "#ff0000", "#1030ff"]}, "legend": {"legendX": 184, "legendY": 1, "clipHeight": 13, "encoding": {"symbols": {"shape": {"expr": "datum.value === 'LS(+)' ? 'M-1,0H1M0.1,0A0.1,0.1 0 1 1 -0.1,0A0.1,0.1 0 1 1 0.1,0' : (datum.value === 'I(+)' || datum.value === 'II(+)') ? 'M-1,0H1M0,-0.21V0.21M-0.21,0H0.21' : 'M-1,0H1'"}}}}}
          },
          "layer": [
            {"mark": {"type": "line", "clip": true}, "encoding": {
              "strokeWidth": {"field": "s", "type": "nominal", "scale": {"type": "ordinal", "domain": ["I(−)", "I(+)", "II(−)", "II(+)", "LS(−)", "LS(+)"], "range": [1, 1, 2, 2, 3, 3.5]}},
              "strokeDash": {"field": "s", "type": "nominal", "scale": {"domain": ["I(−)", "I(+)", "II(−)", "II(+)", "LS(−)", "LS(+)"], "range": [[1, 0], [6, 4], [1, 0], [7, 4], [1, 0], [8, 4]]}}}},
            {"transform": [{"filter": "datum.s === 'I(+)' || datum.s === 'II(+)'"}], "mark": {"type": "point", "shape": "M-1,0H1M0,-1V1", "filled": false, "size": 36, "opacity": 1, "clip": true}, "encoding": {
              "strokeWidth": {"field": "s", "type": "nominal", "scale": {"type": "ordinal", "domain": ["I(−)", "I(+)", "II(−)", "II(+)", "LS(−)", "LS(+)"], "range": [1, 1, 2, 2, 3, 3.5]}}}},
            {"transform": [{"filter": "datum.s === 'LS(+)'"}], "mark": {"type": "point", "shape": "circle", "filled": true, "size": 30, "opacity": 1, "clip": true}}
          ]
        }
      ],
      "bounds": "flush",
      "spacing": 57,
      "resolve": {"scale": {"color": "independent", "strokeWidth": "independent", "strokeDash": "independent"}, "legend": {"color": "independent", "strokeWidth": "independent", "strokeDash": "independent"}}
    },
    {
      "hconcat": [
        {
          "width": 254, "height": 192,
          "title": "(e) soybean large",
          "data": {"name": "soy"},
          "encoding": {
            "x": {"field": "x", "type": "quantitative", "scale": {"domain": [0, 16800], "nice": false, "zero": false}, "axis": {"values": [0, 5000, 10000, 15000], "format": "d", "title": "iteration"}},
            "y": {"field": "y", "type": "quantitative", "scale": {"domain": [0, 0.205], "nice": false, "zero": false}, "axis": {"values": [0, 0.05, 0.1, 0.15, 0.2], "format": "~g", "title": "0–1 loss"}},
            "color": {"field": "s", "type": "nominal", "scale": {"domain": ["I(−)", "I(+)", "II(−)", "II(+)", "LS(−)", "LS(+)"], "range": ["#ff0000", "#1030ff", "#ff0000", "#1030ff", "#ff0000", "#1030ff"]}, "legend": {"legendX": 183, "legendY": 0, "clipHeight": 16, "encoding": {"symbols": {"shape": {"expr": "datum.value === 'LS(+)' ? 'M-1,0H1M0.1,0A0.1,0.1 0 1 1 -0.1,0A0.1,0.1 0 1 1 0.1,0' : (datum.value === 'I(+)' || datum.value === 'II(+)') ? 'M-1,0H1M0,-0.21V0.21M-0.21,0H0.21' : 'M-1,0H1'"}}}}}
          },
          "layer": [
            {"mark": {"type": "line", "clip": true}, "encoding": {
              "strokeWidth": {"field": "s", "type": "nominal", "scale": {"type": "ordinal", "domain": ["I(−)", "I(+)", "II(−)", "II(+)", "LS(−)", "LS(+)"], "range": [1, 1, 2, 2, 3, 3.5]}},
              "strokeDash": {"field": "s", "type": "nominal", "scale": {"domain": ["I(−)", "I(+)", "II(−)", "II(+)", "LS(−)", "LS(+)"], "range": [[1, 0], [6, 4], [1, 0], [7, 4], [1, 0], [8, 4]]}}}},
            {"transform": [{"filter": "datum.s === 'I(+)' || datum.s === 'II(+)'"}], "mark": {"type": "point", "shape": "M-1,0H1M0,-1V1", "filled": false, "size": 36, "opacity": 1, "clip": true}, "encoding": {
              "strokeWidth": {"field": "s", "type": "nominal", "scale": {"type": "ordinal", "domain": ["I(−)", "I(+)", "II(−)", "II(+)", "LS(−)", "LS(+)"], "range": [1, 1, 2, 2, 3, 3.5]}}}},
            {"transform": [{"filter": "datum.s === 'LS(+)'"}], "mark": {"type": "point", "shape": "circle", "filled": true, "size": 30, "opacity": 1, "clip": true}}
          ]
        },
        {
          "width": 252, "height": 185,
          "title": {"text": "(f) Art100", "offset": 10},
          "data": {"name": "art"},
          "encoding": {
            "x": {"field": "x", "type": "quantitative", "scale": {"domain": [0, 74800], "nice": false, "zero": false}, "axis": {"values": [0, 10000, 20000, 30000, 40000, 50000, 60000, 70000], "labelExpr": "datum.value / 10000", "title": "iteration"}},
            "y": {"field": "y", "type": "quantitative", "scale": {"domain": [0.06, 0.21], "nice": false, "zero": false}, "axis": {"values": [0.06, 0.08, 0.1, 0.12, 0.14, 0.16, 0.18, 0.2], "format": "~g", "title": "0–1 loss"}},
            "color": {"field": "s", "type": "nominal", "scale": {"domain": ["I(−)", "I(+)", "II(−)", "II(+)", "LS(−)", "LS(+)"], "range": ["#ff0000", "#1030ff", "#ff0000", "#1030ff", "#ff0000", "#1030ff"]}, "legend": {"legendX": 184, "legendY": 1, "clipHeight": 15.5, "encoding": {"symbols": {"shape": {"expr": "datum.value === 'LS(+)' ? 'M-1,0H1M0.1,0A0.1,0.1 0 1 1 -0.1,0A0.1,0.1 0 1 1 0.1,0' : (datum.value === 'I(+)' || datum.value === 'II(+)') ? 'M-1,0H1M0,-0.21V0.21M-0.21,0H0.21' : 'M-1,0H1'"}}}}}
          },
          "layer": [
            {"mark": {"type": "line", "clip": true}, "encoding": {
              "strokeWidth": {"field": "s", "type": "nominal", "scale": {"type": "ordinal", "domain": ["I(−)", "I(+)", "II(−)", "II(+)", "LS(−)", "LS(+)"], "range": [1, 1, 2, 2, 3, 3.5]}},
              "strokeDash": {"field": "s", "type": "nominal", "scale": {"domain": ["I(−)", "I(+)", "II(−)", "II(+)", "LS(−)", "LS(+)"], "range": [[1, 0], [6, 4], [1, 0], [7, 4], [1, 0], [8, 4]]}}}},
            {"transform": [{"filter": "datum.s === 'I(+)' || datum.s === 'II(+)'"}], "mark": {"type": "point", "shape": "M-1,0H1M0,-1V1", "filled": false, "size": 36, "opacity": 1, "clip": true}, "encoding": {
              "x": {"field": "x", "type": "quantitative", "axis": null},
              "strokeWidth": {"field": "s", "type": "nominal", "scale": {"type": "ordinal", "domain": ["I(−)", "I(+)", "II(−)", "II(+)", "LS(−)", "LS(+)"], "range": [1, 1, 2, 2, 3, 3.5]}}}},
            {"transform": [{"filter": "datum.s === 'LS(+)'"}], "mark": {"type": "point", "shape": "circle", "filled": true, "size": 30, "opacity": 1, "clip": true}, "encoding": {
              "x": {"field": "x", "type": "quantitative", "axis": {"orient": "bottom", "labels": false, "ticks": false, "domain": false, "grid": false, "title": "x 10⁴", "titleFont": "Liberation Sans, DejaVu Sans", "titleFontSize": 10, "titleAnchor": "end", "titleAlign": "right", "titleBaseline": "top", "titleX": 252, "titleY": 26}}}}
          ],
          "resolve": {"axis": {"x": "independent"}}
        }
      ],
      "bounds": "flush",
      "spacing": 58,
      "resolve": {"scale": {"color": "independent", "strokeWidth": "independent", "strokeDash": "independent"}, "legend": {"color": "independent", "strokeWidth": "independent", "strokeDash": "independent"}}
    }
  ]
}
